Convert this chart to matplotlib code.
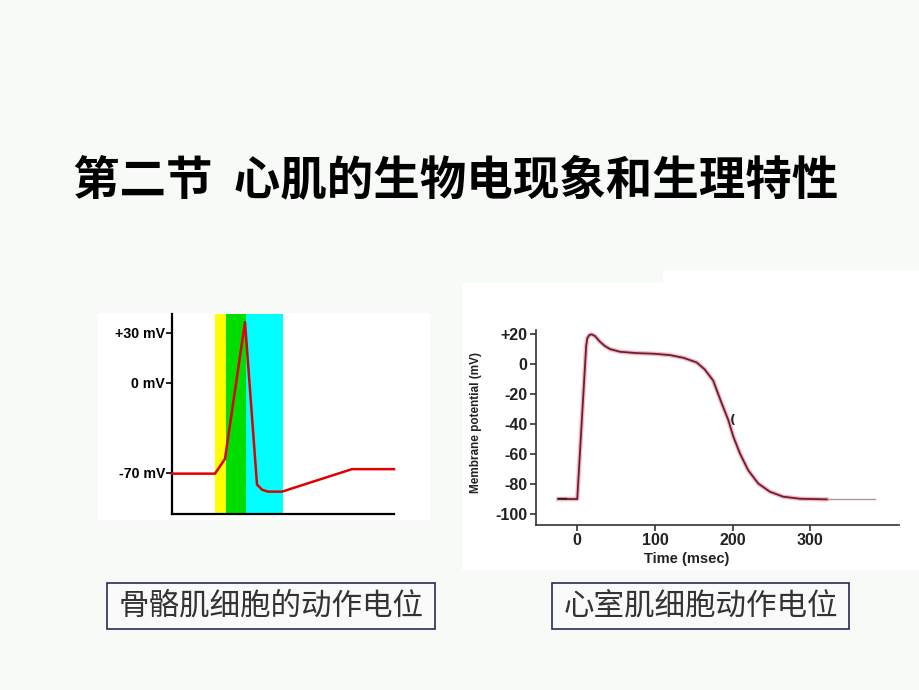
import numpy as np
import matplotlib
matplotlib.use("Agg")
import matplotlib.pyplot as plt
from matplotlib.patches import Rectangle

plt.rcParams['font.family'] = ['Noto Sans CJK SC', 'DejaVu Sans']

W, H = 920, 690

# 标题与说明文字
title = "第二节  心肌的生物电现象和生理特性"
cap_left = "骨骼肌细胞的动作电位"
cap_right = "心室肌细胞动作电位"

# 骨骼肌动作电位（示意图，时间为任意单位）
sk_t = [0, 43, 53, 73, 85, 90, 96, 110, 180, 222]
sk_v = [-70.5, -70.5, -59, 36.5, -79, -83, -84.5, -84.5, -67, -67]
sk_bands = [(43, 54, '#ffff00'), (54, 74, '#00dd00'), (74, 111, '#00ffff')]
sk_ticks = [30, 0, -70]
sk_labels = ['+30 mV', '0 mV', '-70 mV']

# 心室肌动作电位 (msec, mV)
vm_t = [-24.5, 0, 11.5, 12.9, 15.5, 18.5, 22.8, 29.2, 35.7, 42.1, 55, 76.5,
        97.9, 119, 136.5, 153.7, 164, 175, 186, 194.5, 201, 209.5, 220, 233,
        248, 265, 286.7, 321]
vm_v = [-90, -90, 12, 17.1, 19.3, 19.8, 18.7, 14.9, 12, 10, 8.2, 7.3,
        6.9, 6, 4.2, 1.1, -3.5, -11, -26.2, -37.3, -48.4, -59.6, -70.7, -79.6,
        -85.1, -88.4, -89.8, -90.2]
vm_tail_t = [321, 384]
vm_tail_v = [-90.2, -90.2]
vm_yticks = [20, 0, -20, -40, -60, -80, -100]
vm_ylabels = ['+20', '0', '-20', '-40', '-60', '-80', '-100']
vm_xticks = [0, 100, 200, 300]


def box(x0, y0, x1, y1):
    # 像素坐标 -> figure 坐标
    return [x0 / W, 1 - y1 / H, (x1 - x0) / W, (y1 - y0) / H]


fig = plt.figure(figsize=(W / 100, H / 100), dpi=100, facecolor='#f8faf8')

# 白色图片底
for (x0, y0, x1, y1) in [(98, 313, 430, 520), (462, 283, 920, 570), (663, 270, 920, 283)]:
    r = box(x0, y0, x1, y1)
    fig.patches.append(Rectangle((r[0], r[1]), r[2], r[3], transform=fig.transFigure,
                                 facecolor='white', edgecolor='none', zorder=-5))

fig.text(456 / W, 1 - 180 / H, title, ha='center', va='center',
         fontsize=33.5, fontweight='bold', color='black')

# ---- 左图 ----
ax1 = fig.add_axes(box(172, 314, 394, 514))
ax1.patch.set_visible(False)


def fwd(v):
    v = np.asarray(v, dtype=float)
    return np.where(v >= 0, v / 30 * 50, v / 70 * 90)


def inv(p):
    p = np.asarray(p, dtype=float)
    return np.where(p >= 0, p / 50 * 30, p / 90 * 70)


ax1.set_yscale('function', functions=(fwd, inv))
ax1.set_xlim(0, 222)
ax1.set_ylim(-101.9, 41.4)
for a, b, c in sk_bands:
    ax1.axvspan(a, b, color=c, lw=0, zorder=1)
ax1.plot(sk_t, sk_v, color='#e00000', lw=1.8, zorder=3, clip_on=False)
for s in ['top', 'right']:
    ax1.spines[s].set_visible(False)
for s in ['left', 'bottom']:
    ax1.spines[s].set_linewidth(1.6)
ax1.set_xticks([])
ax1.set_yticks(sk_ticks)
ax1.set_yticklabels(sk_labels, family=['Liberation Sans', 'DejaVu Sans'],
                    fontweight='bold', fontsize=10.2)
ax1.yaxis.set_minor_locator(matplotlib.ticker.NullLocator())
ax1.tick_params(axis='y', length=4, width=1.2, pad=1)

# ---- 右图 ----
ax2 = fig.add_axes(box(536, 330, 899, 525))
ax2.patch.set_visible(False)
ax2.set_xlim(-53.1, 414.3)
ax2.set_ylim(-107.3, 22.7)
ax2.plot(vm_t, vm_v, color='#f0a8b8', lw=3.2, alpha=0.8, solid_joinstyle='round', zorder=2)
ax2.plot(vm_t, vm_v, color='#6e1e2c', lw=1.3, solid_joinstyle='round', zorder=3)
ax2.plot(vm_tail_t, vm_tail_v, color='#b89098', lw=1.0, zorder=2)
ax2.plot([-24.5, -14], [-89.3, -89.3], color='#222222', lw=1.0, zorder=4)
ax2.text(200, -37.5, '(', fontsize=9, fontweight='bold', ha='center', va='center',
         family='DejaVu Sans', color='#222222')
for s in ['top', 'right']:
    ax2.spines[s].set_visible(False)
for s in ['left', 'bottom']:
    ax2.spines[s].set_linewidth(1.2)
    ax2.spines[s].set_color('#333333')
ax2.set_yticks(vm_yticks)
ax2.set_yticklabels(vm_ylabels)
ax2.set_xticks(vm_xticks)
ax2.tick_params(length=4, width=1.2, color='#333333', pad=2, labelsize=11.5,
                labelcolor='#222222')
for lab in ax2.get_xticklabels() + ax2.get_yticklabels():
    lab.set_family(['Liberation Sans', 'DejaVu Sans'])
    lab.set_fontweight('bold')
ax2.set_xlabel('Time (msec)', fontsize=10.5, fontweight='bold', color='#222222',
               family=['Liberation Sans', 'DejaVu Sans'])
ax2.xaxis.set_label_coords(0.416, -0.14)
ax2.set_ylabel('Membrane potential (mV)', fontsize=8.5, fontweight='bold', color='#222222',
               family=['Liberation Sans', 'DejaVu Sans'])
ax2.yaxis.set_label_coords(-0.149, 0.528)

# ---- 下方说明框 ----
for (x0, x1, txt) in [(107, 435, cap_left), (552, 849, cap_right)]:
    r = box(x0, 583, x1, 629)
    fig.patches.append(Rectangle((r[0], r[1]), r[2], r[3], transform=fig.transFigure,
                                 facecolor='#fafafa', edgecolor='#2a2a5a', lw=1.2, zorder=1))
    fig.text((x0 + x1) / 2 / W, 1 - 606 / H, txt, ha='center', va='center',
             fontsize=22, color='#333333')

fig.savefig('out.png', dpi=100, facecolor=fig.get_facecolor())
